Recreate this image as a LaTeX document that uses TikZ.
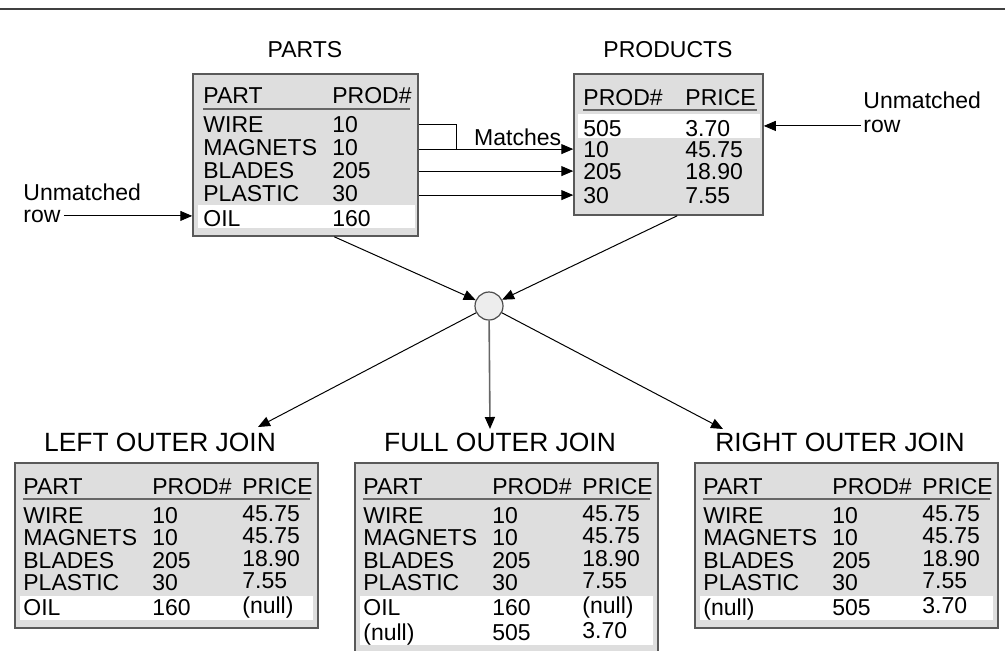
\documentclass[tikz,border=0pt]{standalone}
\usepackage{fontspec}
\setmainfont{Liberation Sans}
\usetikzlibrary{arrows.meta, positioning, fit}

\tikzset{
  tbl/.style={draw=black!65, line width=0.75pt, fill=black!13, inner sep=0pt},
  cell/.style={anchor=base west, inner sep=0pt},
  rule/.style={draw=black!60, line width=1pt},
  band/.style={fill=white},
  arr/.style={-{Triangle[length=6pt,width=5pt]}, line width=0.5pt},
  jtitle/.style={font=\fontsize{13.2}{15}\selectfont}
}

\begin{document}
\begin{tikzpicture}[x=0.5pt,y=-0.5pt, every node/.style={font=\fontsize{11.5}{13}\selectfont}]
\useasboundingbox (0,0) rectangle (1005,650);
\clip (0,0) rectangle (1005,650);
\draw[black!75, line width=1pt] (0,9) -- (1005,9);

% PARTS
\node (partsT) at (305,50) {PARTS};
\node[tbl, fit={(193,74) (418,236)}] (parts) {};
\fill[band] (198,205) rectangle (415,228);
\node[cell] (pH1) at (203,103) {PART};
\node[cell] (pH2) at (332,103) {PROD\#};
\draw[rule] (203,109) -- (410,109);
\node[cell] (pWire) at (203,132) {WIRE};     \node[cell] (pWireN) at (332,132) {10};
\node[cell] (pMag) at (203,155) {MAGNETS};   \node[cell] (pMagN) at (332,155) {10};
\node[cell] (pBla) at (203,178) {BLADES};    \node[cell] (pBlaN) at (332,178) {205};
\node[cell] (pPla) at (203,201) {PLASTIC};   \node[cell] (pPlaN) at (332,201) {30};
\node[cell] (pOil) at (203,226) {OIL};       \node[cell] (pOilN) at (332,226) {160};

% PRODUCTS
\node (prodT) at (668,50) {PRODUCTS};
\node[tbl, fit={(574,74) (763,215)}] (products) {};
\fill[band] (578,114) rectangle (760,138);
\node[cell] (qH1) at (583,105) {PROD\#};
\node[cell] (qH2) at (685,105) {PRICE};
\draw[rule] (583,110) -- (757,110);
\node[cell] (q505) at (583,136) {505};  \node[cell] (q505P) at (685,136) {3.70};
\node[cell] (q10) at (583,157) {10};    \node[cell] (q10P) at (685,157) {45.75};
\node[cell] (q205) at (583,179) {205};  \node[cell] (q205P) at (685,179) {18.90};
\node[cell] (q30) at (583,203) {30};    \node[cell] (q30P) at (685,203) {7.55};

% unmatched rows
\node[cell] (umL) at (23,200) {Unmatched};
\node[cell] (rowL) at (23,222) {row};
\node[cell] (umR) at (863,108) {Unmatched};
\node[cell] (rowR) at (863,132) {row};
\draw[arr] ([xshift=1.5pt]rowL.east) -- (parts.west |- rowL.east);
\draw[arr] ([xshift=-1pt]rowR.west) -- (products.east |- rowR.west);

% matches
\coordinate (bend) at (456,124);
\draw[line width=0.5pt] (parts.east |- bend) -- (bend) -- (bend |- q10);
\draw[arr] (parts.east |- q10) -- (products.west |- q10)
  node[pos=0.64, above=1.5pt, inner sep=0pt] (match) {Matches};
\draw[arr] (parts.east |- q205) -- (products.west |- q205);
\draw[arr] (parts.east |- q30) -- (products.west |- q30);

% join
\node[circle, draw=black!70, fill=black!7, minimum size=14pt, inner sep=0pt, line width=0.6pt] (join) at (489,306) {};
\draw[arr] ([xshift=71pt]parts.south west) -- (join);
\draw[arr] ([xshift=52pt]products.south west) -- (join);
\coordinate (leftTip) at (258,427);
\coordinate (fullTip) at (490,429);
\coordinate (rightTip) at (723,429);
\draw[arr] (join) -- (leftTip);
\draw[-{Triangle[length=6pt,width=5pt,color=black]}, draw=black!60, line width=0.8pt] (join) -- (fullTip);
\draw[arr] (join) -- (rightTip);

% result tables
\foreach \dx/\tn/\boxb/\bandb/\ttl in {0/left/628/620/LEFT OUTER JOIN, 340/full/656/645/FULL OUTER JOIN, 680/right/628/620/RIGHT OUTER JOIN} {
  \node[jtitle] (\tn T) at (160+\dx,442) {\ttl};
  \node[tbl, fit={(15+\dx,463) (318+\dx,\boxb)}] (\tn J) {};
  \fill[band] (20+\dx,596) rectangle (313+\dx,\bandb);
  \node[cell] (\tn H1) at (23+\dx,494) {PART};
  \node[cell] (\tn H2) at (152+\dx,494) {PROD\#};
  \node[cell] (\tn H3) at (242+\dx,494) {PRICE};
  \draw[rule] (23+\dx,499) -- (310+\dx,499);
  \foreach \pt/\pn/\pr [count=\i] in {WIRE/10/45.75, MAGNETS/10/45.75, BLADES/205/18.90, PLASTIC/30/7.55} {
    \node[cell] (\tn P\i) at (23+\dx,500.5+22.5*\i) {\pt};
    \node[cell] (\tn N\i) at (152+\dx,500.5+22.5*\i) {\pn};
    \node[cell] (\tn C\i) at (242+\dx,498.5+22.5*\i) {\pr};
  }
}
\node[cell] (leftP5) at (23,615) {OIL};
\node[cell] (leftN5) at (152,615) {160};
\node[cell] (leftC5) at (242,613) {(null)};
\node[cell] (fullP5) at (363,615) {OIL};
\node[cell] (fullN5) at (492,615) {160};
\node[cell] (fullC5) at (582,613) {(null)};
\node[cell] (fullP6) at (363,640) {(null)};
\node[cell] (fullN6) at (492,640) {505};
\node[cell] (fullC6) at (582,638) {3.70};
\node[cell] (rightP5) at (703,615) {(null)};
\node[cell] (rightN5) at (832,615) {505};
\node[cell] (rightC5) at (922,613) {3.70};

\end{tikzpicture}
\end{document}
